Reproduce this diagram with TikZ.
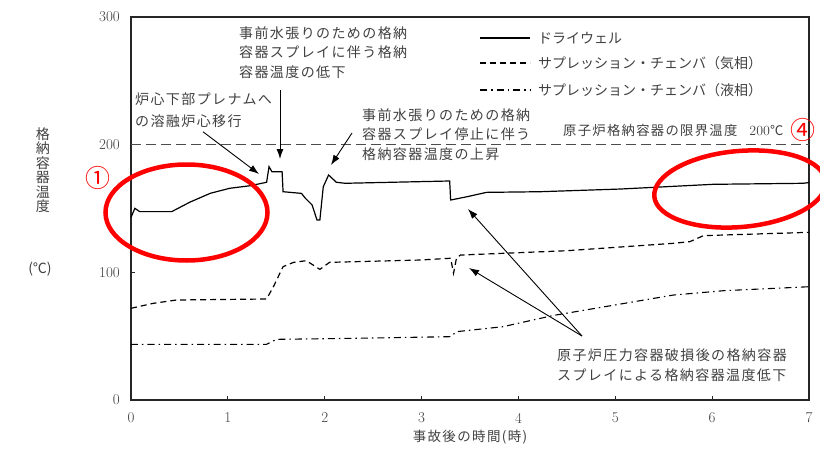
\documentclass[tikz,border=0pt]{standalone}
\usepackage{fontspec}
\usepackage{tikz}
\usetikzlibrary{arrows.meta}
\newfontfamily\jp{Noto Sans CJK JP}
\newfontfamily\jpsp[LetterSpace=10]{Noto Sans CJK JP}
\newcommand{\xh}{96.86}
\newcommand{\yd}{1.277}

\tikzset{
  frame/.style={line width=1.3pt, black!85},
  note/.style={font=\jpsp\fontsize{14}{19.5}\selectfont, text=black!75, align=left, inner sep=0pt, anchor=north west},
  ticklabel/.style={font=\fontsize{15}{15}\selectfont, text=black!75, inner sep=0pt},
  legtext/.style={font=\jp\fontsize{14}{14}\selectfont, text=black!75, inner sep=0pt, anchor=west},
  notearrow/.style={-{Latex[length=10pt,width=7pt]}, line width=0.9pt},
  drywell/.style={line width=1.2pt},
  gasphase/.style={line width=1.2pt, dash pattern=on 6pt off 4pt},
  liqphase/.style={line width=1.1pt, dash pattern=on 7pt off 4pt on 1.5pt off 4pt},
  redoval/.style={draw=red, line width=4.5pt},
  rednum/.style={text=red, font=\jp\fontsize{25}{25}\selectfont, inner sep=0pt}
}

\begin{document}
\begin{tikzpicture}[x=1pt,y=1pt]
\useasboundingbox (-131,-48) rectangle (689,400);
% axes and ticks
\draw[frame] (0,0) rectangle (7*\xh,300*\yd);
\foreach \t in {1,...,6} \draw[frame, line width=1pt] (\t*\xh,0) -- ++(0,4);
\foreach \v in {100,200} \draw[frame, line width=1pt] (0,\v*\yd) -- ++(4,0);
\foreach \t in {0,...,7} \node[ticklabel] (xt\t) at (\t*\xh,-18) {\t};
\foreach \v in {0,100,200,300} \node[ticklabel, anchor=east] (yt\v) at (-11,\v*\yd) {\v};
\node[font=\jpsp\fontsize{13.5}{13.5}\selectfont, text=black!75] (xlab) at (339,-37) {事故後の時間(時)};
\node[font=\jp\fontsize{14}{14.5}\selectfont, text=black!75, align=center] (ylab) at (-88,230) {格\\納\\容\\器\\温\\度};
\node[font=\jp\fontsize{14}{14}\selectfont, text=black!75] (yunit) at (-91,131) {(℃)};

% limit temperature
\draw[black!70, line width=1pt, dash pattern=on 10pt off 5pt] (0,200*\yd) -- (7*\xh,200*\yd);
\node[legtext, font=\jpsp\fontsize{13.3}{13.3}\selectfont] (limit) at (432,270) {原子炉格納容器の限界温度\hspace{12pt}{\rmfamily\fontsize{14}{14}\selectfont 200}℃};

% curves
\begin{scope}[x=\xh pt, y=\yd pt]
\draw[drywell] (0,143) -- (0.04,150.1) -- (0.09,147.5) -- (0.42,147.5) -- (0.61,155) -- (0.82,161.9)
  -- (1.02,165.8) -- (1.23,167.8) -- (1.40,170.5) -- (1.425,182.7) -- (1.455,178.8) -- (1.56,178.8)
  -- (1.57,163.1) -- (1.76,161.8) -- (1.80,158) -- (1.87,152.7) -- (1.92,141) -- (1.95,141)
  -- (1.985,167) -- (2.04,176.2) -- (2.12,170.5) -- (2.21,169.7) -- (3.29,171.5) -- (3.30,156.6)
  -- (3.47,159.2) -- (3.67,162.6) -- (4.22,163.1) -- (5.05,165.2) -- (6.01,168.9) -- (6.94,169.7)
  -- (7.0,170.3);
\draw[gasphase] (0,71.8) -- (0.23,75.7) -- (0.47,78.3) -- (1.40,79.1) -- (1.47,88.7) -- (1.57,104.4)
  -- (1.68,107.8) -- (1.81,109.1) -- (1.95,102.3) -- (2.05,107.8) -- (2.98,109.6) -- (3.30,111)
  -- (3.33,99.2) -- (3.36,111) -- (3.40,113.5) -- (4.50,116.9) -- (5.60,122.7) -- (5.77,124)
  -- (5.91,128.7) -- (7,131.3);
\draw[liqphase] (0,43.6) -- (1.40,43.6) -- (1.50,47.5) -- (2.30,48.3) -- (3.30,49.6) -- (3.36,53.5)
  -- (3.84,57.4) -- (4.36,66.2) -- (5.60,82.2) -- (6.12,85.6) -- (7,88.7);
\end{scope}

% legend
\node[legtext] (lg1) at (407,362) {ドライウェル};
\node[legtext] (lg2) at (407,337) {サプレッション・チェンバ（気相）};
\node[legtext] (lg3) at (407,310) {サプレッション・チェンバ（液相）};
\draw[drywell] ([xshift=-58pt]lg1.west) -- ([xshift=-8pt]lg1.west);
\draw[gasphase] ([xshift=-58pt]lg2.west) -- ([xshift=-8pt]lg2.west);
\draw[liqphase] ([xshift=-58pt]lg3.west) -- ([xshift=-8pt]lg3.west);

% annotations
\node[note] (spray) at (108,374) {事前水張りのための格納\\容器スプレイに伴う格納\\容器温度の低下};
\node[note, font=\jpsp\fontsize{14}{21.5}\selectfont] (melt) at (4,307) {炉心下部プレナムへ\\の溶融炉心移行};
\node[note] (stop) at (231,292) {事前水張りのための格納\\容器スプレイ停止に伴う\\格納容器温度の上昇};
\node[note] (rpv) at (426,51) {原子炉圧力容器破損後の格納容器\\スプレイによる格納容器温度低下};
\coordinate (spraytip) at (149,241);
\coordinate (melttip) at (128,226);
\coordinate (stoptip) at (200,235);
\coordinate (rpvtipa) at (337,191);
\coordinate (rpvtipb) at (338,132);
\coordinate (rpvfoot) at (451,64);
\draw[notearrow] (spray.south west -| spraytip) ++(0,-12) -- (spraytip);
\draw[notearrow] ([xshift=68pt,yshift=-4pt]melt.south west) -- (melttip);
\draw[notearrow] ([xshift=-10pt,yshift=-25pt]stop.north west) -- (stoptip);
\draw[notearrow] (rpvfoot) -- (rpvtipa);
\draw[notearrow] (rpvfoot) -- (rpvtipb);

% marks
\draw[redoval] (55.5,187.5) ellipse [x radius=81, y radius=48];
\draw[redoval, rotate around={5:(609,211)}] (609,211) ellipse [x radius=86, y radius=38];
\node[rednum] (one) at (-33,222) {①};
\node[rednum] (four) at (672,270) {④};
\end{tikzpicture}
\end{document}
